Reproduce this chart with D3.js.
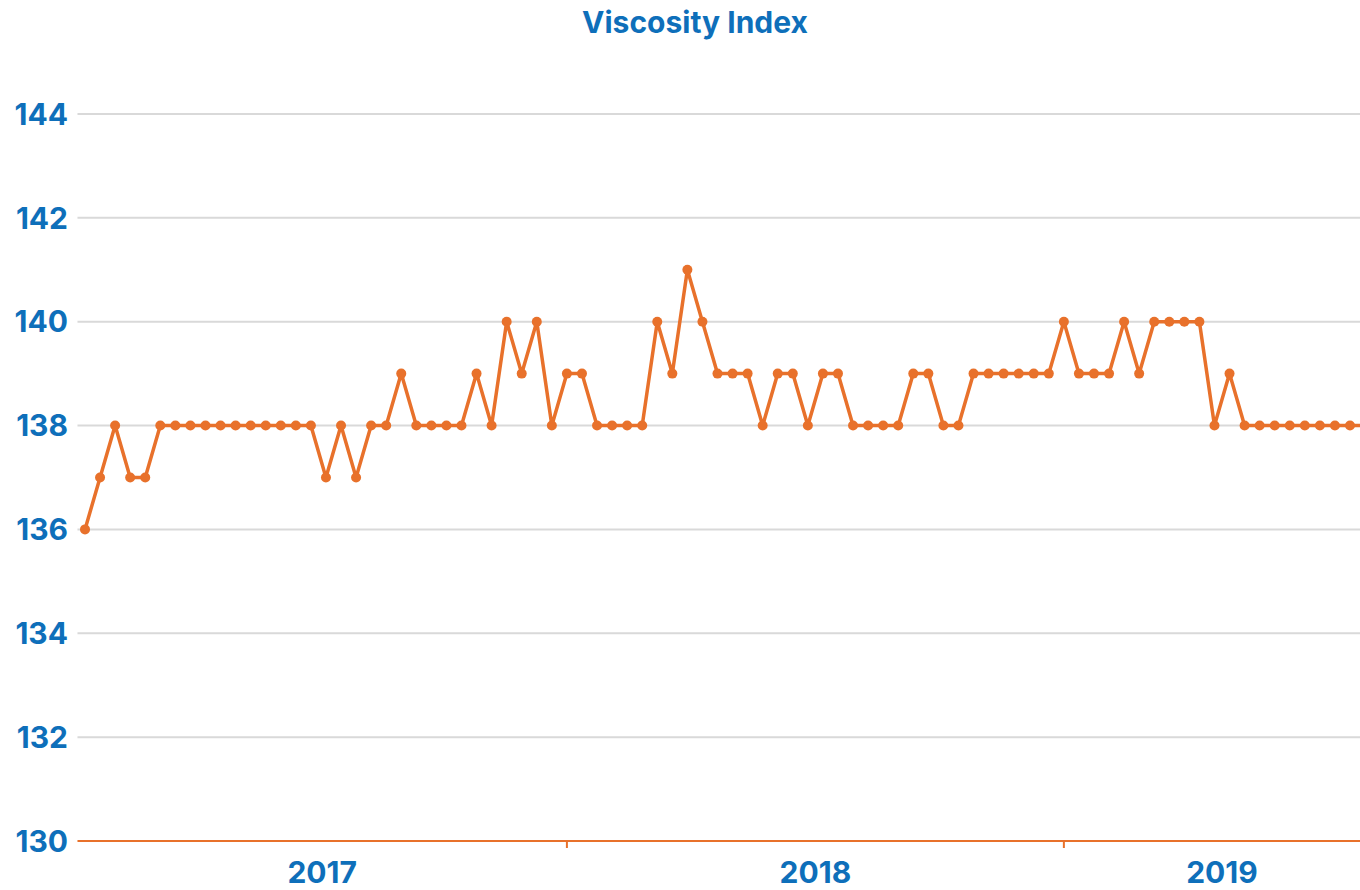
<!DOCTYPE html>
<html lang="en">
<head>
    <meta charset="UTF-8">
    <title>Viscosity Index</title>
    <script src="https://d3js.org/d3.v7.min.js"></script>
    <style>
        body { margin: 0; background: #fff; }
        svg { display: block; font-family: Inter, Roboto, sans-serif; }
        .grid line { stroke: #d9d9d9; stroke-width: 2; }
        .label { fill: #0e6fba; font-weight: 700; font-size: 30px; }
    </style>
</head>
<body>
    <div id="chart"></div>

    <script>
        // readings, one per sample (left to right)
        var values = [136, 137, 138, 137, 137, 138, 138, 138, 138, 138, 138, 138, 138, 138, 138, 138,
                      137, 138, 137, 138, 138, 139, 138, 138, 138, 138, 139, 138, 140, 139, 140, 138,
                      139, 139, 138, 138, 138, 138, 140, 139, 141, 140, 139, 139, 139, 138, 139, 139,
                      138, 139, 139, 138, 138, 138, 138, 139, 139, 138, 138, 139, 139, 139, 139, 139,
                      139, 140, 139, 139, 139, 140, 139, 140, 140, 140, 140, 138, 139, 138, 138, 138,
                      138, 138, 138, 138, 138, 138];
        var years = ["2017", "2018", "2019"];
        var yearFirstSample = [0, 32, 65]; // sample index where each year starts
        var yTicks = [130, 132, 134, 136, 138, 140, 142, 144];

        var width = 1360, height = 890;
        var orange = "#e8712b";

        var svg = d3.select("#chart").append("svg")
            .attr("width", width)
            .attr("height", height);

        var x = d3.scaleLinear().domain([0, 84]).range([85, 1350]);
        var y = d3.scaleLinear().domain([130, 145]).range([841, 62]);
        var left = x(-0.5);

        // horizontal grid
        svg.append("g")
            .attr("class", "grid")
            .selectAll("line")
            .data(yTicks.slice(1))
            .enter()
            .append("line")
            .attr("x1", left)
            .attr("x2", width)
            .attr("y1", d => y(d))
            .attr("y2", d => y(d));

        // y labels
        svg.append("g")
            .selectAll("text")
            .data(yTicks)
            .enter()
            .append("text")
            .attr("class", "label")
            .attr("x", 68)
            .attr("y", d => y(d))
            .attr("dy", "0.36em")
            .attr("text-anchor", "end")
            .text(d => d);

        // x axis line + year ticks
        svg.append("line")
            .attr("x1", left).attr("x2", width)
            .attr("y1", y(130)).attr("y2", y(130))
            .attr("stroke", orange).attr("stroke-width", 2);

        svg.selectAll(".ytick")
            .data(yearFirstSample.slice(1))
            .enter()
            .append("line")
            .attr("x1", d => x(d)).attr("x2", d => x(d))
            .attr("y1", y(130)).attr("y2", y(130) + 7)
            .attr("stroke", orange).attr("stroke-width", 2);

        var bounds = [-0.5].concat(yearFirstSample.slice(1), [values.length]);
        svg.append("g")
            .selectAll("text")
            .data(years)
            .enter()
            .append("text")
            .attr("class", "label")
            .attr("x", (d, i) => (x(bounds[i]) + x(bounds[i + 1])) / 2)
            .attr("y", 883)
            .attr("text-anchor", "middle")
            .text(d => d);

        // series
        var line = d3.line()
            .x((d, i) => x(i))
            .y(d => y(d));

        svg.append("path")
            .datum(values)
            .attr("fill", "none")
            .attr("stroke", orange)
            .attr("stroke-width", 3.5)
            .attr("stroke-linejoin", "round")
            .attr("d", line);

        svg.append("g")
            .selectAll("circle")
            .data(values)
            .enter()
            .append("circle")
            .attr("cx", (d, i) => x(i))
            .attr("cy", d => y(d))
            .attr("r", 5)
            .attr("fill", orange);

        svg.append("text")
            .attr("class", "label")
            .attr("x", 695)
            .attr("y", 33)
            .attr("text-anchor", "middle")
            .text("Viscosity Index");
    </script>
</body>
</html>
